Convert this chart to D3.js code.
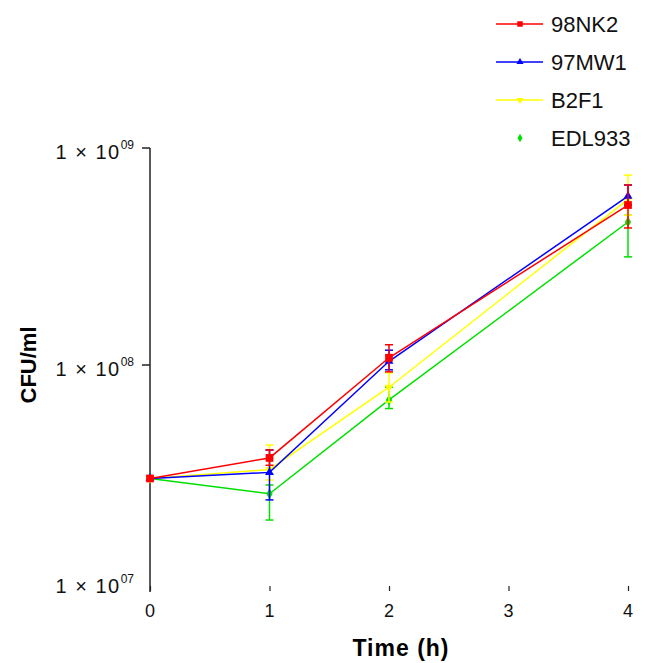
<!DOCTYPE html>
<html>
<head>
	<meta charset="utf-8">
	<script src="https://d3js.org/d3.v7.min.js"></script>
	<style>
		body { margin: 0; background: #fff; }
		text { font-family: "Liberation Sans", Arial, sans-serif; }
	</style>
</head>
<body>
	<svg></svg>
	<script>
		var width = 651, height = 663;

		var times = [0, 1, 2, 4];
		var names = ["98NK2", "97MW1", "B2F1", "EDL933"];
		var colors = ["#ff0000", "#0000ff", "#ffff00", "#00e000"];
		var symbols = [d3.symbolSquare, d3.symbolTriangle, d3.symbolTriangle, d3.symbolDiamond];

		// mean CFU/ml and error bar ends
		var nk2 = [3.0e7, 3.73e7, 1.08e8, 5.46e8];
		var nk2Hi = [3.0e7, 4.06e7, 1.24e8, 6.75e8];
		var nk2Lo = [3.0e7, 3.45e7, 9.3e7, 4.28e8];

		var mw1 = [3.0e7, 3.2e7, 1.04e8, 6.0e8];
		var mw1Hi = [3.0e7, 4.06e7, 1.17e8, 6.75e8];
		var mw1Lo = [3.0e7, 2.39e7, 9.5e7, 5.46e8];

		var b2f1 = [3.0e7, 3.3e7, 7.9e7, 5.8e8];
		var b2f1Hi = [3.0e7, 4.28e7, 9.2e7, 7.5e8];
		var b2f1Lo = [3.0e7, 2.95e7, 6.75e7, 4.9e8];

		var edl = [3.0e7, 2.55e7, 6.9e7, 4.56e8];
		var edlHi = [3.0e7, 2.8e7, 7.9e7, 4.9e8];
		var edlLo = [3.0e7, 1.93e7, 6.3e7, 3.15e8];

		var xTicks = [0, 1, 2, 3, 4];
		var yTicks = [1e7, 1e8, 1e9];
		var yTickLabels = ["07", "08", "09"];

		var series = [
			{ name: names[0], v: nk2, hi: nk2Hi, lo: nk2Lo },
			{ name: names[1], v: mw1, hi: mw1Hi, lo: mw1Lo },
			{ name: names[2], v: b2f1, hi: b2f1Hi, lo: b2f1Lo },
			{ name: names[3], v: edl, hi: edlHi, lo: edlLo }
		];

		var x = d3.scaleLinear().domain([0, 4]).range([150, 628]);
		var y = d3.scaleLog().domain([1e7, 1e9]).range([582, 148]);

		var svg = d3.select("svg")
			.attr("width", width)
			.attr("height", height);

		// y axis line
		svg.append("line")
			.attr("x1", 150).attr("x2", 150)
			.attr("y1", y(1e9)).attr("y2", 592)
			.attr("stroke", "#222").attr("stroke-width", 1.5);

		var yLab = svg.append("g");
		yTicks.forEach(function (t, i) {
			if (t > 1e7) {
				yLab.append("line")
					.attr("x1", 142).attr("x2", 150)
					.attr("y1", y(t)).attr("y2", y(t))
					.attr("stroke", "#222").attr("stroke-width", 1.5);
			}
			var tx = yLab.append("text")
				.attr("x", 134).attr("y", y(t) + 11)
				.attr("text-anchor", "end")
				.attr("font-size", 20)
				.attr("fill", "#111");
			tx.append("tspan").attr("letter-spacing", 1.5).text("1 \u00d7 10");
			tx.append("tspan").attr("dy", -10).attr("font-size", 12).text(yTickLabels[i]);
		});

		// x axis: ticks only
		var xAxis = svg.append("g")
			.attr("transform", "translate(0,591)")
			.call(d3.axisTop(x).tickValues(xTicks).tickSize(5).tickFormat(""));
		xAxis.select(".domain").remove();
		xAxis.selectAll("line").attr("stroke", "#222").attr("stroke-width", 1.2);

		svg.append("g").selectAll("text")
			.data(xTicks)
			.enter().append("text")
			.attr("x", d => x(d))
			.attr("y", 617)
			.attr("text-anchor", "middle")
			.attr("font-size", 18)
			.attr("fill", "#111")
			.text(d => d);

		svg.append("text")
			.attr("x", 401).attr("y", 656)
			.attr("text-anchor", "middle")
			.attr("font-size", 23).attr("font-weight", "bold")
			.attr("letter-spacing", 1)
			.text("Time (h)");

		svg.append("text")
			.attr("transform", "translate(36,365) rotate(-90)")
			.attr("text-anchor", "middle")
			.attr("font-size", 22).attr("font-weight", "bold")
			.text("CFU/ml");

		var line = d3.line()
			.x((d, i) => x(times[i]))
			.y(d => y(d));

		// draw back to front: green, yellow, blue, red
		[3, 2, 1, 0].forEach(function (k) {
			var s = series[k];
			var g = svg.append("g");
			g.append("path")
				.attr("d", line(s.v))
				.attr("fill", "none")
				.attr("stroke", colors[k])
				.attr("stroke-width", 1.5);
			times.forEach(function (t, i) {
				if (s.hi[i] === s.lo[i]) return;
				var cx = x(t);
				g.append("line")
					.attr("x1", cx).attr("x2", cx)
					.attr("y1", y(s.hi[i])).attr("y2", y(s.lo[i]))
					.attr("stroke", colors[k]).attr("stroke-width", 1.5);
				[s.hi[i], s.lo[i]].forEach(function (e) {
					g.append("line")
						.attr("x1", cx - 4).attr("x2", cx + 4)
						.attr("y1", y(e)).attr("y2", y(e))
						.attr("stroke", colors[k]).attr("stroke-width", 1.5);
				});
			});
			g.selectAll("path.pt")
				.data(s.v)
				.enter().append("path")
				.attr("class", "pt")
				.attr("transform", (d, i) => "translate(" + x(times[i]) + "," + y(d) + ")" + (k === 2 ? " rotate(180)" : ""))
				.attr("d", d3.symbol().type(symbols[k]).size(k === 0 ? 60 : 34))
				.attr("fill", colors[k]);
		});

		// legend
		var legendY = [24, 62, 100, 138];
		names.forEach(function (n, k) {
			var lg = svg.append("g").attr("transform", "translate(0," + legendY[k] + ")");
			if (k < 3) {
				lg.append("line")
					.attr("x1", 496).attr("x2", 543)
					.attr("stroke", colors[k]).attr("stroke-width", 1.5);
			}
			lg.append("path")
				.attr("transform", "translate(520,0)" + (k === 2 ? " rotate(180)" : ""))
				.attr("d", d3.symbol().type(symbols[k]).size(k === 0 ? 30 : 22))
				.attr("fill", colors[k]);
			lg.append("text")
				.attr("x", 551).attr("y", 8)
				.attr("font-size", 22)
				.attr("fill", "#111")
				.text(n);
		});
	</script>
</body>
</html>
